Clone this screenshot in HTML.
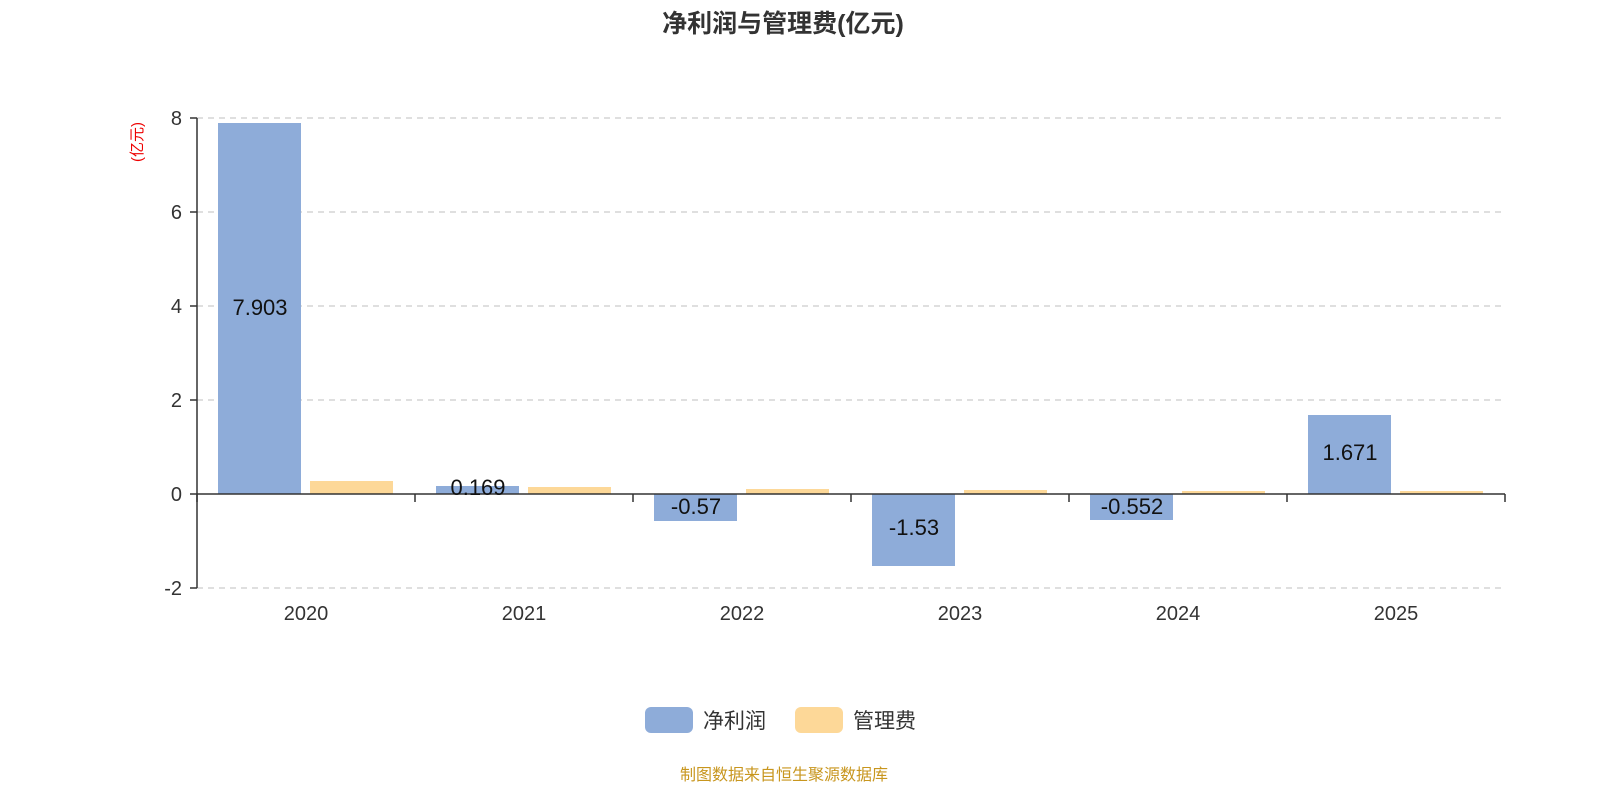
<!DOCTYPE html>
<html><head><meta charset="utf-8"><style>
html,body{margin:0;padding:0;background:#fff;overflow:hidden;width:1600px;height:800px;}
svg{display:block;}
svg text{font-family:"Liberation Sans","Noto Sans CJK SC",sans-serif;}
</style></head><body>
<svg width="1600" height="800" xmlns="http://www.w3.org/2000/svg">
<text x="783" y="32" text-anchor="middle" font-size="25" font-weight="bold" fill="#333">净利润与管理费(亿元)</text>
<text transform="translate(142,142) rotate(-90)" text-anchor="middle" font-size="15" fill="#e00">(亿元)</text>
<g stroke="#ccc" stroke-dasharray="6,5" stroke-width="1.3">
<line x1="197" y1="118" x2="1505" y2="118"/><line x1="197" y1="212" x2="1505" y2="212"/>
<line x1="197" y1="306" x2="1505" y2="306"/><line x1="197" y1="400" x2="1505" y2="400"/>
<line x1="197" y1="588" x2="1505" y2="588"/></g>
<g font-size="20" fill="#333" text-anchor="end">
<text x="182" y="125">8</text><text x="182" y="219">6</text><text x="182" y="313">4</text>
<text x="182" y="407">2</text><text x="182" y="501">0</text><text x="182" y="595">-2</text></g>
<g fill="#8eacd9">
<rect x="218" y="123" width="83" height="371"/>
<rect x="436" y="486" width="83" height="8"/>
<rect x="654" y="494" width="83" height="27"/>
<rect x="872" y="494" width="83" height="72"/>
<rect x="1090" y="494" width="83" height="26"/>
<rect x="1308" y="415" width="83" height="79"/></g>
<g fill="#fdd898">
<rect x="310" y="481" width="83" height="13"/>
<rect x="528" y="487" width="83" height="7"/>
<rect x="746" y="489" width="83" height="5"/>
<rect x="964" y="490" width="83" height="4"/>
<rect x="1182" y="491" width="83" height="3"/>
<rect x="1400" y="491" width="83" height="3"/></g>
<g stroke="#333" stroke-width="1.5">
<line x1="197" y1="118" x2="197" y2="588"/>
<line x1="190" y1="118" x2="197" y2="118"/><line x1="190" y1="212" x2="197" y2="212"/>
<line x1="190" y1="306" x2="197" y2="306"/><line x1="190" y1="400" x2="197" y2="400"/>
<line x1="190" y1="494" x2="197" y2="494"/><line x1="190" y1="588" x2="197" y2="588"/>
<line x1="197" y1="494" x2="1505" y2="494"/>
<line x1="197" y1="494" x2="197" y2="502"/><line x1="415" y1="494" x2="415" y2="502"/>
<line x1="633" y1="494" x2="633" y2="502"/><line x1="851" y1="494" x2="851" y2="502"/>
<line x1="1069" y1="494" x2="1069" y2="502"/><line x1="1287" y1="494" x2="1287" y2="502"/>
<line x1="1505" y1="494" x2="1505" y2="502"/></g>
<g font-size="22" fill="#111" text-anchor="middle">
<text x="260" y="315">7.903</text><text x="478" y="495">0.169</text>
<text x="696" y="514">-0.57</text><text x="914" y="535">-1.53</text>
<text x="1132" y="514">-0.552</text><text x="1350" y="460">1.671</text></g>
<g font-size="20" fill="#333" text-anchor="middle">
<text x="306" y="620">2020</text><text x="524" y="620">2021</text><text x="742" y="620">2022</text>
<text x="960" y="620">2023</text><text x="1178" y="620">2024</text><text x="1396" y="620">2025</text></g>
<rect x="645" y="707" width="48" height="26" rx="6" fill="#8eacd9"/>
<text x="703" y="728" font-size="21" fill="#333">净利润</text>
<rect x="795" y="707" width="48" height="26" rx="6" fill="#fdd898"/>
<text x="853" y="728" font-size="21" fill="#333">管理费</text>
<text x="784" y="780" text-anchor="middle" font-size="16" fill="#c8961e">制图数据来自恒生聚源数据库</text>
</svg>
</body></html>
